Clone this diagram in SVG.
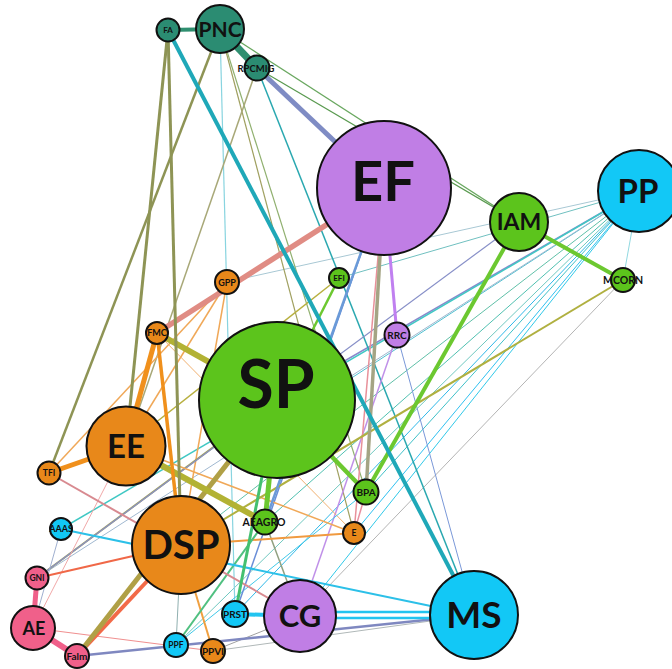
<svg xmlns="http://www.w3.org/2000/svg" width="672" height="669" viewBox="0 0 672 669">
<style>
.bg{fill:#ffffff}
.edges line{fill:none;stroke-linecap:butt}
.nd circle{stroke:#111;stroke-width:2}
.teal{fill:#2b8c72}.pur{fill:#c07ee5}.cy{fill:#12c8f6}.gr{fill:#5cc41c}.or{fill:#e8881a}.pk{fill:#f0608a}
text{font-family:Lato,"Open Sans","Liberation Sans",sans-serif;font-weight:bold;text-anchor:middle;fill:#111}
.olv{stroke:#8e9455}
.org{stroke:#f0901c}
.orl{stroke:#f0a858;stroke-width:1.5}
.ppf{stroke-width:1}
.thin{stroke-width:1.2}
</style>
<rect class="bg" x="0" y="0" width="672" height="669"/>
<g id="connectors" class="edges">
<!-- thin background edges -->
<line class="ppf" x1="639" y1="191" x2="227" y2="282" stroke="#a8c8d4"/>
<line class="ppf" x1="639" y1="191" x2="339" y2="278" stroke="#70c0c0"/>
<line class="ppf" x1="639" y1="191" x2="623" y2="280" stroke="#90d8e0"/>
<line x1="639" y1="191" x2="277" y2="400" stroke="#8a88cc" stroke-width="1.5"/>
<line class="ppf" x1="639" y1="191" x2="290" y2="418" stroke="#50c0d0"/>
<line class="ppf" x1="639" y1="191" x2="366" y2="492" stroke="#40c0c8"/>
<line class="ppf" x1="639" y1="191" x2="354" y2="533" stroke="#30c0f0"/>
<line class="ppf" x1="639" y1="191" x2="300" y2="616" stroke="#30c8e8"/>
<line class="ppf" x1="639" y1="191" x2="235" y2="614" stroke="#30b8e8"/>
<line class="ppf" x1="639" y1="191" x2="265" y2="522" stroke="#50c0b0"/>
<line class="ppf" x1="639" y1="191" x2="176" y2="645" stroke="#70c8c0"/>
<line class="ppf" x1="639" y1="191" x2="181" y2="545" stroke="#60c0a8"/>
<line class="ppf" x1="639" y1="191" x2="37" y2="578" stroke="#a0b8d0"/>
<line x1="639" y1="191" x2="61" y2="529" stroke="#40c8c4" stroke-width="1.5"/>
<line class="ppf" x1="623" y1="280" x2="300" y2="616" stroke="#b4b4b4"/>
<line class="thin" x1="220" y1="29" x2="235" y2="614" stroke="#88d4e0"/>
<line class="thin" x1="220" y1="29" x2="519" y2="222" stroke="#6aa860"/>
<line class="thin" x1="257" y1="68" x2="519" y2="222" stroke="#5a9a50"/>
<line class="thin" x1="220" y1="29" x2="354" y2="533" stroke="#a0a060"/>
<line class="thin" x1="220" y1="29" x2="366" y2="492" stroke="#90b070"/>
<line x1="257" y1="68" x2="126" y2="446" stroke="#a8a878" stroke-width="1.5"/>
<line x1="257" y1="68" x2="474" y2="615" stroke="#2aa8b0" stroke-width="1.5"/>
<line class="ppf" x1="397" y1="335" x2="474" y2="615" stroke="#7a98d8"/>
<line x1="397" y1="335" x2="300" y2="616" stroke="#c090e8" stroke-width="1.5"/>
<line x1="339" y1="278" x2="126" y2="446" stroke="#b8b040" stroke-width="1.5"/>
<line class="orl" x1="227" y1="282" x2="126" y2="446"/>
<line class="orl" x1="227" y1="282" x2="181" y2="545"/>
<line class="orl" x1="227" y1="282" x2="49" y2="473"/>
<line class="ppf" x1="157" y1="333" x2="354" y2="533" stroke="#f0b070"/>
<line x1="37" y1="578" x2="277" y2="400" stroke="#a0a060" stroke-width="2"/>
<line class="thin" x1="37" y1="578" x2="519" y2="222" stroke="#8890c8"/>
<line class="ppf" x1="61" y1="529" x2="33" y2="628" stroke="#a0b0d0"/>
<line class="ppf" x1="33" y1="628" x2="126" y2="446" stroke="#f0a8a8"/>
<line class="thin" x1="33" y1="628" x2="213" y2="651" stroke="#f09090"/>
<line class="ppf" x1="213" y1="651" x2="300" y2="616" stroke="#a0a0a0"/>
<line class="ppf" x1="213" y1="651" x2="474" y2="615" stroke="#b0b8b8"/>
<line class="ppf" x1="176" y1="645" x2="366" y2="492" stroke="#40c8e8"/>
<line class="ppf" x1="176" y1="645" x2="181" y2="545" stroke="#90b0b0"/>
<line x1="265" y1="522" x2="300" y2="616" stroke="#90a080" stroke-width="1.5"/>
<line x1="235" y1="614" x2="384" y2="188" stroke="#6a8ed8" stroke-width="1.5"/>
<line x1="384" y1="188" x2="354" y2="533" stroke="#e8909a" stroke-width="1.5"/>
<line x1="366" y1="492" x2="354" y2="533" stroke="#e890a0" stroke-width="1.5"/>
<line class="orl" x1="126" y1="446" x2="354" y2="533"/>
<line x1="181" y1="545" x2="354" y2="533" stroke="#f09a40" stroke-width="2"/>
<line x1="213" y1="651" x2="181" y2="545" stroke="#f0a040" stroke-width="2"/>
<line x1="176" y1="645" x2="265" y2="522" stroke="#50c080" stroke-width="2"/>
<line x1="49" y1="473" x2="300" y2="616" stroke="#d88a90" stroke-width="2"/>
<line x1="37" y1="578" x2="181" y2="545" stroke="#f06848" stroke-width="2"/>
<line x1="61" y1="529" x2="474" y2="615" stroke="#2cc0e8" stroke-width="2"/>
<line x1="623" y1="280" x2="181" y2="545" stroke="#b0b040" stroke-width="2"/>
<!-- medium and thick edges -->
<line x1="339" y1="278" x2="277" y2="400" stroke="#6cc830" stroke-width="2.5"/>
<line x1="384" y1="188" x2="265" y2="522" stroke="#6a9ad8" stroke-width="2.5"/>
<line x1="235" y1="614" x2="277" y2="400" stroke="#44c070" stroke-width="3"/>
<line x1="77" y1="656" x2="474" y2="615" stroke="#7f88c0" stroke-width="2.5"/>
<line x1="300" y1="612" x2="474" y2="612" stroke="#22c4f0" stroke-width="2.5"/>
<line x1="300" y1="618" x2="474" y2="618" stroke="#22c4f0" stroke-width="2.5"/>
<line x1="235" y1="614" x2="300" y2="616" stroke="#22c4f0" stroke-width="4"/>
<line x1="384" y1="188" x2="397" y2="335" stroke="#c080f0" stroke-width="3"/>
<line x1="384" y1="188" x2="366" y2="492" stroke="#a4a484" stroke-width="3.5"/>
<line x1="519" y1="222" x2="366" y2="492" stroke="#6cc830" stroke-width="4"/>
<line x1="519" y1="222" x2="623" y2="280" stroke="#6cc830" stroke-width="4"/>
<line x1="277" y1="400" x2="265" y2="522" stroke="#6cc830" stroke-width="5"/>
<line x1="277" y1="400" x2="366" y2="492" stroke="#6cc830" stroke-width="4.5"/>
<line x1="33" y1="628" x2="37" y2="578" stroke="#f0608a" stroke-width="5"/>
<line x1="33" y1="628" x2="77" y2="656" stroke="#f0608a" stroke-width="6"/>
<line x1="77" y1="656" x2="181" y2="545" stroke="#f26a48" stroke-width="4"/>
<line x1="77" y1="656" x2="277" y2="400" stroke="#b0a046" stroke-width="5"/>
<line x1="126" y1="446" x2="265" y2="522" stroke="#b2b234" stroke-width="6"/>
<line class="org" x1="49" y1="473" x2="126" y2="446" stroke-width="5"/>
<line class="org" x1="157" y1="333" x2="181" y2="545" stroke-width="3.5"/>
<line class="org" x1="157" y1="333" x2="126" y2="446" stroke-width="5"/>
<line x1="157" y1="333" x2="277" y2="400" stroke="#b2b234" stroke-width="6"/>
<line x1="384" y1="188" x2="157" y2="333" stroke="#e08c84" stroke-width="5.5"/>
<line class="olv" x1="220" y1="29" x2="49" y2="473" stroke-width="2.5"/>
<line class="olv" x1="168" y1="30" x2="181" y2="545" stroke-width="3"/>
<line class="olv" x1="168" y1="30" x2="126" y2="446" stroke-width="3"/>
<line x1="168" y1="30" x2="474" y2="615" stroke="#1fa8b8" stroke-width="4"/>
<line x1="257" y1="68" x2="384" y2="188" stroke="#7f8cc4" stroke-width="5"/>
<line x1="220" y1="29" x2="257" y2="68" stroke="#2f8f70" stroke-width="7"/>
<line x1="168" y1="30" x2="220" y2="29" stroke="#2f8f70" stroke-width="4"/>
</g>
<g class="nd">
<g id="node-FA"><circle class="teal" cx="168" cy="30" r="11.5"/><text x="168" y="33" font-size="8">FA</text></g>
<g id="node-PNC"><circle class="teal" cx="220" cy="29" r="24"/><text x="220" y="36.5" font-size="21">PNC</text></g>
<g id="node-RPCMIG"><circle class="teal" cx="257" cy="68" r="12.5"/><text x="256" y="71.5" font-size="9.5">RPCMIG</text></g>
<g id="node-EF"><circle class="pur" cx="384" cy="188" r="67"/><text x="383" y="201" font-size="56">EF</text></g>
<g id="node-IAM"><circle class="gr" cx="519" cy="222" r="29"/><text x="519" y="230" font-size="23">IAM</text></g>
<g id="node-PP"><circle class="cy" cx="639" cy="191" r="41"/><text x="638" y="202.5" font-size="33">PP</text></g>
<g id="node-MCORN"><circle class="gr" cx="623" cy="280" r="12"/><text x="623" y="284" font-size="10.5">MCORN</text></g>
<g id="node-GPP"><circle class="or" cx="227" cy="282" r="12"/><text x="227" y="285.5" font-size="9">GPP</text></g>
<g id="node-EFI"><circle class="gr" cx="339" cy="278" r="10"/><text x="339" y="281" font-size="8">EFI</text></g>
<g id="node-RRC"><circle class="pur" cx="397" cy="335" r="12.5"/><text x="397" y="338.5" font-size="10">RRC</text></g>
<g id="node-FMC"><circle class="or" cx="157" cy="333" r="11"/><text x="157" y="336" font-size="9">FMC</text></g>
<g id="node-SP"><circle class="gr" cx="277" cy="400" r="78"/><text x="276" y="408" font-size="66">SP</text></g>
<g id="node-EE"><circle class="or" cx="126" cy="446" r="39.5"/><text x="126" y="458" font-size="33">EE</text></g>
<g id="node-TFI"><circle class="or" cx="49" cy="473" r="11.5"/><text x="49" y="476" font-size="8.5">TFI</text></g>
<g id="node-BPA"><circle class="gr" cx="366" cy="492" r="12.5"/><text x="366" y="495.5" font-size="10">BPA</text></g>
<g id="node-AAAS"><circle class="cy" cx="61" cy="529" r="11"/><text x="61" y="532" font-size="9">AAAS</text></g>
<g id="node-AEAGRO"><circle class="gr" cx="265" cy="522" r="12.5"/><text x="264" y="525.5" font-size="10.5">AEAGRO</text></g>
<g id="node-E"><circle class="or" cx="354" cy="533" r="11"/><text x="354" y="536" font-size="8.5">E</text></g>
<g id="node-DSP"><circle class="or" cx="181" cy="545" r="49"/><text x="181" y="559" font-size="40">DSP</text></g>
<g id="node-GNI"><circle class="pk" cx="37" cy="578" r="11.5"/><text x="37" y="581" font-size="8.5">GNI</text></g>
<g id="node-AE"><circle class="pk" cx="33" cy="628" r="22"/><text x="34" y="634.5" font-size="18">AE</text></g>
<g id="node-Falm"><circle class="pk" cx="77" cy="656" r="12"/><text x="77" y="659.5" font-size="10">Falm</text></g>
<g id="node-PPF"><circle class="cy" cx="176" cy="645" r="12"/><text x="176" y="648" font-size="8.5">PPF</text></g>
<g id="node-PPVI"><circle class="or" cx="213" cy="651" r="12"/><text x="213" y="654.5" font-size="10">PPVI</text></g>
<g id="node-PRST"><circle class="cy" cx="235" cy="614" r="13"/><text x="235" y="617.5" font-size="10">PRST</text></g>
<g id="node-CG"><circle class="pur" cx="300" cy="616" r="36"/><text x="300" y="627" font-size="31">CG</text></g>
<g id="node-MS"><circle class="cy" cx="474" cy="615" r="44"/><text x="474" y="628" font-size="37">MS</text></g>
</g>
</svg>
